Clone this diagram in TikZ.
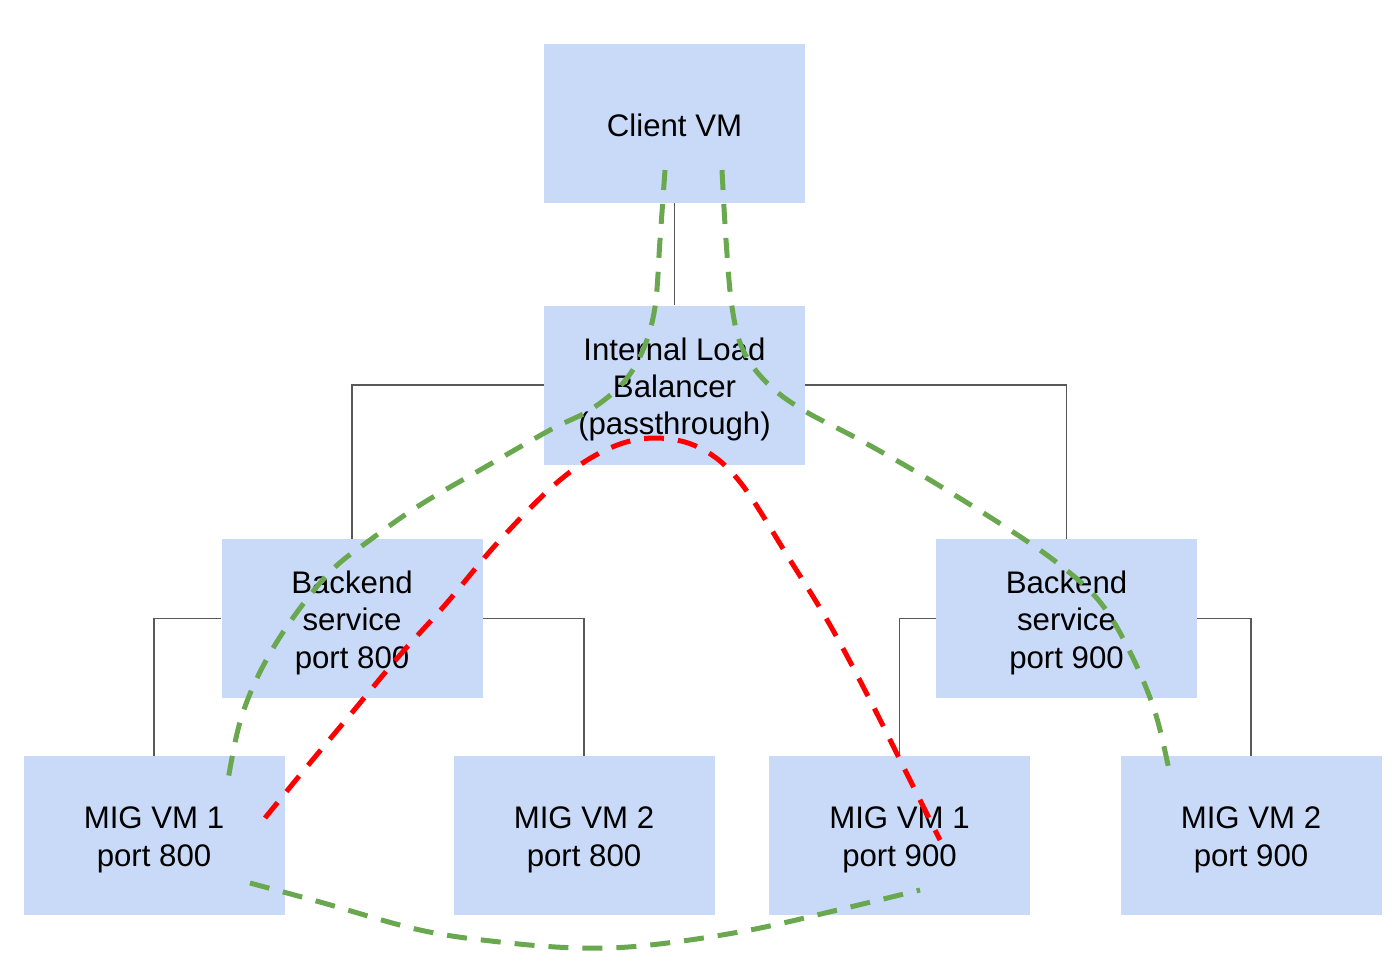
\documentclass[tikz,border=0pt]{standalone}
\usepackage{fontspec}
\setmainfont{Liberation Sans}
\begin{document}
\begin{tikzpicture}[x=0.5pt,y=-0.5pt,
  box/.style={fill=boxblue, draw=none, minimum width=130.5pt, minimum height=79.5pt, inner sep=0pt},
  txt/.style={align=center, inner sep=0pt, yshift=-2.2pt, font=\fontsize{15.6}{18.6}\selectfont},
  tree/.style={draw=treegray, line width=0.9pt},
  flowg/.style={draw=flowgreen, line width=2.5pt, dash pattern=on 10pt off 7pt},
  flowr/.style={draw=red, line width=2.5pt, dash pattern=on 10pt off 7pt}]
\definecolor{boxblue}{HTML}{C9DAF8}
\definecolor{treegray}{HTML}{595959}
\definecolor{flowgreen}{HTML}{6AA84F}
\useasboundingbox (0,0) rectangle (1400,964);
\node[box, label={[txt, yshift=1.4pt]center:Client VM}] (client) at (674.5,123.5) {};
\node[box, label={[txt]center:{Internal Load\\Balancer\\(passthrough)}}] (ilb) at (674.5,385) {};
\node[box, label={[txt]center:{Backend\\service\\port 800}}] (be8) at (352,618.5) {};
\node[box, label={[txt]center:{Backend\\service\\port 900}}] (be9) at (1066.5,618.5) {};
\node[box, label={[txt]center:{MIG VM 1\\port 800}}] (m18) at (154,835.5) {};
\node[box, label={[txt]center:{MIG VM 2\\port 800}}] (m28) at (584,835.5) {};
\node[box, label={[txt]center:{MIG VM 1\\port 900}}] (m19) at (899.5,835.5) {};
\node[box, label={[txt]center:{MIG VM 2\\port 900}}] (m29) at (1251,835.5) {};
\draw[tree] (client.south) -- (ilb.north);
\draw[tree] (ilb.west) -| (be8.north);
\draw[tree] (ilb.east) -| (be9.north);
\draw[tree] (be8.west) -| (m18.north);
\draw[tree] (be8.east) -| (m28.north);
\draw[tree] (be9.west) -| (m19.north);
\draw[tree] (be9.east) -| (m29.north);
\draw[flowg] plot[smooth, tension=0.6] coordinates {(665,170) (660,240) (655,307) (643,350) (623,383) (590,410) (550,430) (480,470) (420,505) (370,540) (330,572) (290,622) (260,672) (240,722) (228,780)};
\draw[flowg] plot[smooth, tension=0.6] coordinates {(722,170) (726,240) (732,307) (743,350) (767,383) (803,410) (860,440) (930,480) (1010,530) (1060,565) (1100,602) (1130,652) (1155,712) (1170,775)};
\draw[flowr] plot[smooth, tension=0.6] coordinates {(265,818) (300,775) (350,715) (400,655) (445,605) (500,540) (560,480) (610,448) (655,438) (700,448) (740,482) (790,560) (830,625) (870,700) (905,770) (940,840)};
\draw[flowg] plot[smooth, tension=0.6] coordinates {(250,883) (320,902) (420,930) (500,942) (580,948) (650,945) (750,930) (850,907) (920,890)};
\end{tikzpicture}
\end{document}
